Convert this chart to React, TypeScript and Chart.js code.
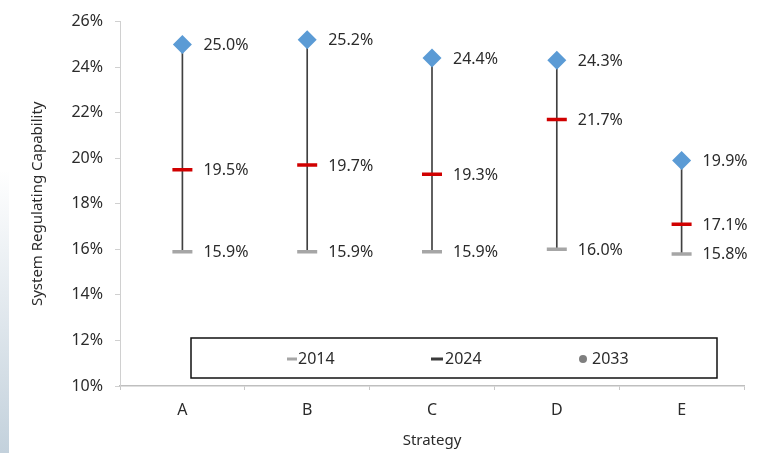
import React, { useEffect, useRef } from "react";
import { Chart, registerables } from "chart.js";

Chart.register(...registerables);

const categories = ["A", "B", "C", "D", "E"];
const values2014 = [15.9, 15.9, 15.9, 16.0, 15.8];
const values2024 = [19.5, 19.7, 19.3, 21.7, 17.1];
const values2033 = [25.0, 25.2, 24.4, 24.3, 19.9];
const seriesLabels = ["2014", "2024", "2033"];
const yMin = 10;
const yMax = 26;
const yStep = 2;
const xTitle = "Strategy";
const yTitle = "System Regulating Capability";

const FONT = "'Noto Sans', 'Open Sans', sans-serif";
const TEXT = "#2b2b2b";

const labelPlugin = {
  id: "pointLabels",
  afterDatasetsDraw(chart: any) {
    const ctx = chart.ctx;
    ctx.save();
    ctx.font = `16px ${FONT}`;
    ctx.fillStyle = TEXT;
    ctx.textAlign = "left";
    ctx.textBaseline = "middle";
    chart.data.datasets.forEach((ds: any, i: number) => {
      if (!ds.showValueLabels) return;
      const meta = chart.getDatasetMeta(i);
      meta.data.forEach((pt: any, j: number) => {
        ctx.fillText(ds.data[j].toFixed(1) + "%", pt.x + 21, pt.y + 1);
      });
    });
    ctx.restore();
  },
};

const legendPlugin = {
  id: "boxLegend",
  afterDraw(chart: any) {
    const ctx = chart.ctx;
    const { left, right, bottom } = chart.chartArea;
    const bx = left + 71;
    const bw = right - 27 - bx;
    const by = bottom - 48;
    const bh = 40;
    ctx.save();
    ctx.fillStyle = "#ffffff";
    ctx.fillRect(bx, by, bw, bh);
    ctx.strokeStyle = "#111111";
    ctx.lineWidth = 1.5;
    ctx.strokeRect(bx, by, bw, bh);
    ctx.font = `16px ${FONT}`;
    ctx.fillStyle = TEXT;
    ctx.textAlign = "left";
    ctx.textBaseline = "middle";
    const cy = by + 21;
    seriesLabels.forEach((lab, i) => {
      const tx = bx + 107 + i * 147;
      if (i === 0) {
        ctx.fillStyle = "#a6a6a6";
        ctx.fillRect(tx - 11, cy - 1.5, 10, 3);
      } else if (i === 1) {
        ctx.fillStyle = "#3a3a3a";
        ctx.fillRect(tx - 14, cy - 1.5, 12, 3);
      } else {
        ctx.fillStyle = "#7f7f7f";
        ctx.beginPath();
        ctx.arc(tx - 9, cy, 4, 0, Math.PI * 2);
        ctx.fill();
      }
      ctx.fillStyle = TEXT;
      ctx.fillText(lab, tx, cy);
    });
    ctx.restore();
  },
};

export default function App() {
  const ref = useRef<HTMLCanvasElement | null>(null);

  useEffect(() => {
    if (!ref.current) return;
    const chart = new Chart(ref.current, {
      type: "bar",
      data: {
        labels: categories,
        datasets: [
          {
            type: "line",
            label: seriesLabels[2],
            data: values2033,
            showLine: false,
            pointStyle: "rectRot",
            pointRadius: 9.5,
            pointHoverRadius: 9.5,
            backgroundColor: "#5b9bd5",
            pointBackgroundColor: "#5b9bd5",
            borderColor: "#5b9bd5",
            pointBorderWidth: 0,
            order: 1,
            showValueLabels: true,
          } as any,
          {
            type: "line",
            label: seriesLabels[1],
            data: values2024,
            showLine: false,
            pointStyle: "line",
            pointRadius: 10,
            pointHoverRadius: 10,
            borderColor: "#d00000",
            pointBorderColor: "#d00000",
            pointBorderWidth: 3.5,
            order: 2,
            showValueLabels: true,
          } as any,
          {
            type: "line",
            label: seriesLabels[0],
            data: values2014,
            showLine: false,
            pointStyle: "line",
            pointRadius: 10,
            pointHoverRadius: 10,
            borderColor: "#a6a6a6",
            pointBorderColor: "#a6a6a6",
            pointBorderWidth: 3.5,
            order: 3,
            showValueLabels: true,
          } as any,
          {
            type: "bar",
            label: "range",
            data: categories.map((_, i) => [values2014[i], values2033[i]]),
            backgroundColor: "#404040",
            barThickness: 1,
            order: 10,
          } as any,
        ],
      },
      options: {
        animation: false,
        responsive: false,
        devicePixelRatio: 1,
        layout: { padding: { left: 0, right: 20, top: 18, bottom: 0 } },
        plugins: {
          legend: { display: false },
          tooltip: { enabled: false },
        },
        scales: {
          x: {
            offset: true,
            grid: {
              offset: true,
              drawOnChartArea: false,
              drawTicks: true,
              tickLength: 4,
              color: "#c8c8c8",
            },
            border: { color: "#bfbfbf", width: 1.5 },
            ticks: {
              color: TEXT,
              font: { family: FONT, size: 16 },
              padding: 11,
              maxRotation: 0,
            },
            title: {
              display: true,
              text: xTitle,
              color: TEXT,
              font: { family: FONT, size: 15 },
              padding: { top: 0, bottom: 3 },
            },
            afterFit(scale: any) {
              scale.height = 67;
            },
          },
          y: {
            min: yMin,
            max: yMax,
            grid: {
              drawOnChartArea: false,
              drawTicks: true,
              tickLength: 5,
              color: "#d0d0d0",
            },
            border: { color: "#d0d0d0", width: 1 },
            ticks: {
              stepSize: yStep,
              color: TEXT,
              font: { family: FONT, size: 16 },
              padding: 12,
              callback: (v: any) => v + "%",
            },
            title: {
              display: true,
              text: yTitle,
              color: TEXT,
              font: { family: FONT, size: 15 },
              padding: { top: 29, bottom: 0 },
            },
            afterFit(scale: any) {
              scale.width = 120;
            },
          },
        },
      } as any,
      plugins: [labelPlugin, legendPlugin],
    });
    return () => chart.destroy();
  }, []);

  return (
    <div
      style={{
        position: "fixed",
        left: 0,
        top: 0,
        width: 764,
        height: 453,
        background: "#ffffff",
        overflow: "hidden",
      }}
    >
      <div
        style={{
          position: "absolute",
          left: 0,
          top: 170,
          width: 9,
          height: 283,
          background: "linear-gradient(to bottom, rgba(215,225,233,0), #c3d1dc)",
        }}
      />
      <canvas ref={ref} width={764} height={453} style={{ position: "absolute", left: 0, top: 0 }} />
    </div>
  );
}
